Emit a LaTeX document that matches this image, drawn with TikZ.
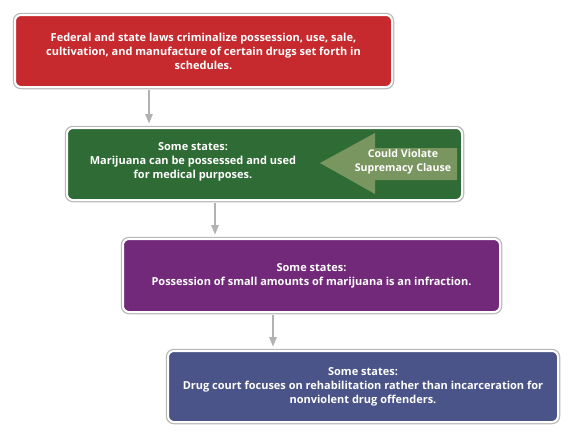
\documentclass[tikz,border=0pt]{standalone}
\usepackage{fontspec}
\setmainfont{Open Sans}
\usetikzlibrary{arrows.meta,positioning,calc}
\definecolor{LawRed}{RGB}{198,42,46}
\definecolor{StateGreen}{RGB}{47,107,52}
\definecolor{ClauseGreen}{RGB}{122,150,96}
\definecolor{StatePurple}{RGB}{114,41,122}
\definecolor{CourtBlue}{RGB}{75,84,136}
\definecolor{LinkGray}{RGB}{178,178,178}

\begin{document}
\begin{tikzpicture}[x=1pt,y=-1pt,
  box/.style={rectangle,draw=white,line width=2pt,rounded corners=6pt,inner sep=0pt,
    preaction={draw=black!28,line width=4.5pt},
    font=\bfseries\fontsize{11}{14}\selectfont,text=white,align=center},
  txt/.style={font=\bfseries\fontsize{11}{14}\selectfont,text=white,align=center,inner sep=0pt},
  link/.style={draw=LinkGray,line width=2.6pt,-{Triangle[length=10pt,width=7pt]}}
]
  \useasboundingbox (0,0) rectangle (574,439);
  \node[box,fill=LawRed,minimum width=377pt,minimum height=72pt] (law) at (203.5,51)
    {Federal and state laws criminalize possession, use, sale,\\cultivation, and manufacture of certain drugs set forth in\\schedules.};
  \node[box,fill=StateGreen,minimum width=395pt,minimum height=72pt] (medical) at (264.5,164) {};
  \node[txt] (medtxt) at (193,162) {Some states:\\Marijuana can be possessed and used\\for medical purposes.};
  \fill[ClauseGreen] (320,163) -- (375,133) -- (375,148) -- (457,148) -- (457,180) -- (375,180) -- (375,194) -- cycle;
  \node[txt,font=\bfseries\fontsize{10.6}{14}\selectfont] (clause) at (403,162) {Could Violate\\Supremacy Clause};
  \node[box,fill=StatePurple,minimum width=377pt,minimum height=73pt] (infraction) at (311.5,275.5)
    {Some states:\\Possession of small amounts of marijuana is an infraction.};
  \node[box,fill=CourtBlue,minimum width=390pt,minimum height=71pt] (court) at (363,386.5)
    {Some states:\\Drug court focuses on rehabilitation rather than incarceration for\\nonviolent drug offenders.};
  \coordinate (l1) at ([xshift=-54.5pt]law.south);
  \coordinate (l2) at ([xshift=-49.5pt]medical.south);
  \coordinate (l3) at ([xshift=-38.5pt]infraction.south);
  \draw[link] ([yshift=-2pt]l1) -- ([yshift=3pt]l1 |- medical.north);
  \draw[link] ([yshift=-2pt]l2) -- ([yshift=3pt]l2 |- infraction.north);
  \draw[link] ([yshift=-2pt]l3) -- ([yshift=3pt]l3 |- court.north);
\end{tikzpicture}
\end{document}
